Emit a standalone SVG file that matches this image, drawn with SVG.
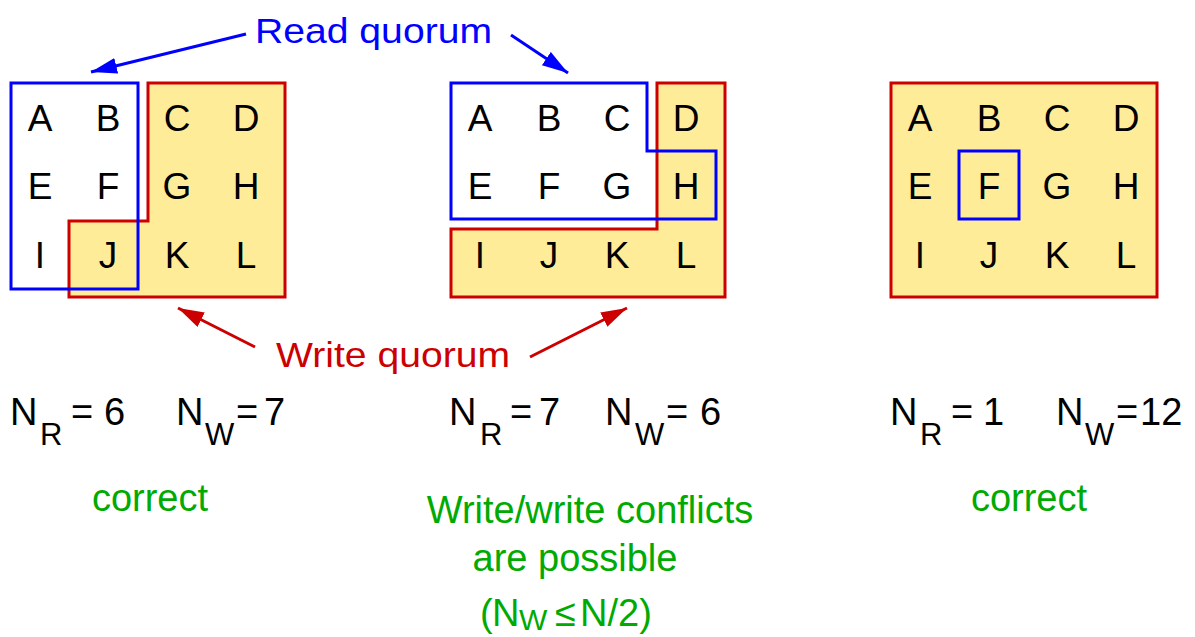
<svg xmlns="http://www.w3.org/2000/svg" width="1195" height="637" viewBox="0 0 1195 637">
<defs>
<style>
text{font-family:"Liberation Sans",Arial,Helvetica,sans-serif;}
.lt{font-size:37px;fill:#000;text-anchor:middle;}
.wq{fill:#FFEC99;stroke:#CC0000;stroke-width:3;}
.rq{fill:none;stroke:#0000FF;stroke-width:3;}
.eq{font-size:38px;fill:#000;}
.sub{font-size:31px;fill:#000;}
.gr{font-size:38px;fill:#00AA00;}
.grs{font-size:30px;fill:#00AA00;}
.ba{stroke:#0000FF;stroke-width:3;fill:none;}
.ra{stroke:#CC0000;stroke-width:3;fill:none;}
</style>
<marker id="ahb" markerUnits="userSpaceOnUse" markerWidth="28" markerHeight="18" refX="26" refY="8" orient="auto"><path d="M0,0 L26,8 L0,16 Z" fill="#0000FF"/></marker>
<marker id="ahr" markerUnits="userSpaceOnUse" markerWidth="28" markerHeight="18" refX="26" refY="8" orient="auto"><path d="M0,0 L26,8 L0,16 Z" fill="#CC0000"/></marker>
</defs>
<rect width="1195" height="637" fill="#fff"/>

<g id="panel-left">
<polygon class="wq" points="148,83 285,83 285,297 69,297 69,221 148,221"/>
<rect class="rq" x="11" y="83" width="127" height="206"/>
<text class="lt" x="40" y="131">A</text><text class="lt" x="108" y="131">B</text><text class="lt" x="177" y="131">C</text><text class="lt" x="246" y="131">D</text>
<text class="lt" x="40" y="199">E</text><text class="lt" x="108" y="199">F</text><text class="lt" x="177" y="199">G</text><text class="lt" x="246" y="199">H</text>
<text class="lt" x="40" y="268">I</text><text class="lt" x="108" y="268">J</text><text class="lt" x="177" y="268">K</text><text class="lt" x="246" y="268">L</text>
</g>

<g id="panel-middle">
<polygon class="wq" points="657,83 725,83 725,297 451,297 451,229 657,229"/>
<polygon class="rq" points="451,83 647,83 647,151 716,151 716,219 451,219"/>
<text class="lt" x="480" y="131">A</text><text class="lt" x="549" y="131">B</text><text class="lt" x="617" y="131">C</text><text class="lt" x="686" y="131">D</text>
<text class="lt" x="480" y="199">E</text><text class="lt" x="549" y="199">F</text><text class="lt" x="617" y="199">G</text><text class="lt" x="686" y="199">H</text>
<text class="lt" x="480" y="268">I</text><text class="lt" x="549" y="268">J</text><text class="lt" x="617" y="268">K</text><text class="lt" x="686" y="268">L</text>
</g>

<g id="panel-right">
<rect class="wq" x="891" y="83" width="266" height="214"/>
<rect class="rq" x="959" y="151" width="60" height="68"/>
<text class="lt" x="920" y="131">A</text><text class="lt" x="989" y="131">B</text><text class="lt" x="1057" y="131">C</text><text class="lt" x="1126" y="131">D</text>
<text class="lt" x="920" y="199">E</text><text class="lt" x="989" y="199">F</text><text class="lt" x="1057" y="199">G</text><text class="lt" x="1126" y="199">H</text>
<text class="lt" x="920" y="268">I</text><text class="lt" x="989" y="268">J</text><text class="lt" x="1057" y="268">K</text><text class="lt" x="1126" y="268">L</text>
</g>

<g id="label-read">
<text x="255" y="43" font-size="35" fill="#0000FF" textLength="237" lengthAdjust="spacingAndGlyphs">Read quorum</text>
</g>
<g id="label-write">
<text x="276" y="367" font-size="35" fill="#CC0000" textLength="234" lengthAdjust="spacingAndGlyphs">Write quorum</text>
</g>

<g id="connectors">
<line class="ba" x1="246" y1="34" x2="91" y2="72" marker-end="url(#ahb)"/>
<line class="ba" x1="511" y1="35" x2="568" y2="73" marker-end="url(#ahb)"/>
<line class="ra" x1="255" y1="347" x2="178" y2="308" marker-end="url(#ahr)"/>
<line class="ra" x1="530" y1="357" x2="627" y2="308" marker-end="url(#ahr)"/>
</g>

<g id="formula-left">
<text class="eq" x="10" y="425">N</text><text class="sub" x="40" y="445">R</text><text class="eq" x="71" y="425">=</text><text class="eq" x="104" y="425">6</text>
<text class="eq" x="176" y="425">N</text><text class="sub" x="205" y="445">W</text><text class="eq" x="236" y="425">=</text><text class="eq" x="264" y="425">7</text>
</g>
<g id="formula-middle">
<text class="eq" x="449" y="425">N</text><text class="sub" x="480" y="445">R</text><text class="eq" x="510" y="425">=</text><text class="eq" x="539" y="425">7</text>
<text class="eq" x="605" y="425">N</text><text class="sub" x="635" y="445">W</text><text class="eq" x="666" y="425">=</text><text class="eq" x="700" y="425">6</text>
</g>
<g id="formula-right">
<text class="eq" x="890" y="425">N</text><text class="sub" x="920" y="445">R</text><text class="eq" x="951" y="425">=</text><text class="eq" x="983" y="425">1</text>
<text class="eq" x="1056" y="425">N</text><text class="sub" x="1085" y="445">W</text><text class="eq" x="1116" y="425">=</text><text class="eq" x="1140" y="425">12</text>
</g>

<g id="verdict-left"><text class="gr" x="150" y="511" text-anchor="middle">correct</text></g>
<g id="verdict-middle">
<text class="gr" x="590" y="523" text-anchor="middle">Write/write conflicts</text>
<text class="gr" x="575" y="571" text-anchor="middle">are possible</text>
<text class="gr" x="480" y="626">(</text><text class="gr" x="492" y="626">N</text><text class="grs" x="519" y="630">W</text><text class="gr" x="555" y="626">≤</text><text class="gr" x="580" y="626">N/2)</text>
</g>
<g id="verdict-right"><text class="gr" x="1029" y="511" text-anchor="middle">correct</text></g>
</svg>
